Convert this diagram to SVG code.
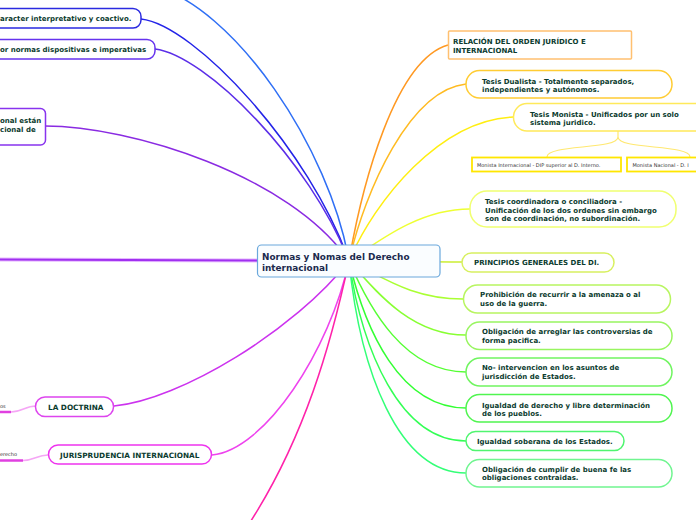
<svg xmlns="http://www.w3.org/2000/svg" width="696" height="520" viewBox="0 0 696 520">
<style>
.c{fill:none;stroke-width:1.5}
.n{fill:#fff;stroke-width:1.5}
.t{font-family:"DejaVu Sans",Verdana,sans-serif;font-weight:bold;font-size:7px;fill:#0b3b2e}
.tl{font-family:"DejaVu Sans",Verdana,sans-serif;font-weight:bold;font-size:7.3px;fill:#0b3b2e}
.s{font-family:"DejaVu Sans",Verdana,sans-serif;font-size:5px;fill:#333}
.ctr{font-family:"DejaVu Sans",Verdana,sans-serif;font-weight:bold;font-size:8.9px;fill:#1b2a4e}
</style>
<rect width="696" height="520" fill="#fff"/>
<g id="connectors">
<path class="c" stroke="#2f6ff5" stroke-width="1.2" d="M150,-15 C235,5 330,150 349,261"/>
<path class="c" stroke="#2323e8" d="M141,19 C195,25 310,150 349,261"/>
<path class="c" stroke="#5b2ee8" stroke-width="1.2" d="M155,49 C205,55 310,160 349,261"/>
<path class="c" stroke="#8a2be2" d="M45,126 C130,126 290,175 349,261"/>
<path fill="none" stroke="#e6b8ff" stroke-width="4" d="M0,259.5 L349,261"/>
<path fill="none" stroke="#a030f0" stroke-width="2" d="M0,259.5 L349,261"/>
<path class="c" stroke="#cc33ee" d="M114,406 C180,400 295,330 349,261"/>
<path class="c" stroke="#ee44ee" d="M212,455 C265,450 330,350 349,261"/>
<path class="c" stroke="#ff22aa" d="M349,261 C332,340 305,440 245,530"/>
<path fill="none" stroke="#f5a6f5" stroke-width="1.5" d="M36,406 C25,406 22,412 11,412"/>
<path fill="none" stroke="#e040e0" stroke-width="2.5" d="M0,412 L11,412"/>
<path fill="none" stroke="#f5a6f5" stroke-width="1.5" d="M48,455 C37,455 34,460.5 23,460.5"/>
<path fill="none" stroke="#e040e0" stroke-width="2.5" d="M0,460.5 L23,460.5"/>
<path class="c" stroke="#ff9922" d="M349,261 C362,185 395,60 448,45"/>
<path class="c" stroke="#ffbb22" d="M349,261 C365,190 410,90 466,84"/>
<path class="c" stroke="#ffee11" d="M349,261 C375,200 440,120 513,117"/>
<path class="c" stroke="#eeff33" d="M349,261 C380,240 420,209 470,209"/>
<path class="c" stroke="#ccee33" d="M349,261 C400,261 420,262 462,262"/>
<path class="c" stroke="#aaff33" d="M349,261 C380,275 410,299 463,299"/>
<path class="c" stroke="#88ff33" d="M349,261 C375,290 410,335 466,335"/>
<path class="c" stroke="#55ff33" d="M349,261 C370,310 405,372 466,372"/>
<path class="c" stroke="#33ff33" d="M349,261 C365,330 400,408 466,408"/>
<path class="c" stroke="#33ff55" d="M349,261 C362,350 400,441 466,441"/>
<path class="c" stroke="#33ff77" d="M349,261 C360,370 398,473 466,473"/>
<path fill="none" stroke="#ffe870" stroke-width="1.2" d="M618,131 L618,137 C618,150 547,144 547,157 M618,137 C618,150 690,144 690,157"/>
</g>
<g id="center">
<rect x="257.5" y="245" width="182.5" height="32" rx="4" fill="#fafdff" stroke="#6aa8dc" stroke-width="1.2"/>
<text class="ctr" x="262" y="259.5">Normas y Nomas del Derecho</text>
<text class="ctr" x="262" y="270.5">internacional</text>
</g>
<g id="n-caracter">
<rect class="n" x="-20" y="8.5" width="161" height="19.5" rx="8" stroke="#2a2ae0"/>
<text class="t" x="0" y="21">aracter interpretativo y coactivo.</text>
</g>
<g id="n-normas">
<rect class="n" x="-20" y="39.5" width="175" height="19.5" rx="8" stroke="#6633ee"/>
<text class="t" x="0" y="52">or normas dispositivas e imperativas</text>
</g>
<g id="n-estan">
<rect class="n" x="-20" y="108.5" width="65.5" height="36.5" rx="5" stroke="#8833ee"/>
<text class="t" x="0" y="123">onal están</text>
<text class="t" x="0" y="132">cional de</text>
</g>
<g id="n-doctrina">
<rect class="n" x="35.5" y="397" width="78" height="19.5" rx="9.5" stroke="#dd44ee"/>
<text class="tl" x="48" y="409.5">LA DOCTRINA</text>
</g>
<g id="n-doctrina-sub">
<text class="s" x="0" y="407.5">os</text>
</g>
<g id="n-jurisprudencia">
<rect class="n" x="48.5" y="445" width="163" height="19" rx="9.5" stroke="#ee33ee"/>
<text class="tl" x="60" y="457.5">JURISPRUDENCIA INTERNACIONAL</text>
</g>
<g id="n-jurisprudencia-sub">
<text class="s" x="0" y="456">erecho</text>
</g>
<g id="n-relacion">
<rect class="n" x="448.5" y="31" width="183" height="28" rx="1" stroke="#ffc070" stroke-width="2"/>
<text class="t" x="453" y="43.5">RELACIÓN DEL ORDEN JURÍDICO E</text>
<text class="t" x="453" y="52.5">INTERNACIONAL</text>
</g>
<g id="n-dualista">
<rect class="n" x="466" y="70.5" width="206" height="27.5" rx="13.5" stroke="#ffcc33"/>
<text class="t" x="482" y="83.5">Tesis Dualista - Totalmente separados,</text>
<text class="t" x="482" y="92">independientes y autónomos.</text>
</g>
<g id="n-monista">
<rect class="n" x="513.5" y="103.5" width="200" height="27.5" rx="13.5" stroke="#ffe95a"/>
<text class="t" x="530" y="116.5">Tesis Monista - Unificados por un solo</text>
<text class="t" x="530" y="125">sistema juridico.</text>
</g>
<g id="n-monista-int">
<rect x="472" y="157.5" width="149" height="14" fill="#fff" stroke="#ffe600" stroke-width="1.8"/>
<text class="s" x="477" y="166.5">Monista Internacional - DIP superior al D. Interno.</text>
</g>
<g id="n-monista-nac">
<rect x="627" y="157.5" width="80" height="14" fill="#fff" stroke="#ffe600" stroke-width="1.8"/>
<text class="s" x="632.5" y="166.5">Monista Nacional - D. I</text>
</g>
<g id="n-coordinadora">
<rect class="n" x="470" y="191" width="206" height="36" rx="17" stroke="#f0ff70"/>
<text class="t" x="485" y="203.5">Tesis coordinadora o conciliadora -</text>
<text class="t" x="485" y="212.5">Unificación de los dos ordenes sin embargo</text>
<text class="t" x="485" y="221">son de coordinación, no subordinación.</text>
</g>
<g id="n-principios">
<rect class="n" x="462" y="253" width="152" height="19" rx="9.5" stroke="#d8f060"/>
<text class="t" x="474" y="265">PRINCIPIOS GENERALES DEL DI.</text>
</g>
<g id="n-prohibicion">
<rect class="n" x="463.5" y="285" width="207" height="28" rx="14" stroke="#b8f560"/>
<text class="t" x="480" y="297">Prohibición de recurrir a la amenaza o al</text>
<text class="t" x="480" y="306">uso de la guerra.</text>
</g>
<g id="n-arreglar">
<rect class="n" x="466" y="322" width="206" height="27.5" rx="13.5" stroke="#98f560"/>
<text class="t" x="482" y="334">Obligación de arreglar las controversias de</text>
<text class="t" x="482" y="342.5">forma pacifica.</text>
</g>
<g id="n-nointervencion">
<rect class="n" x="466" y="358" width="206" height="28" rx="14" stroke="#70f560"/>
<text class="t" x="482" y="370">No- intervencion en los asuntos de</text>
<text class="t" x="482" y="379">jurisdicción de Estados.</text>
</g>
<g id="n-igualdad-derecho">
<rect class="n" x="466" y="394.5" width="206" height="27.5" rx="13.5" stroke="#50f550"/>
<text class="t" x="482" y="407.5">Igualdad de derecho y libre determinación</text>
<text class="t" x="482" y="416">de los pueblos.</text>
</g>
<g id="n-igualdad-soberana">
<rect class="n" x="466" y="431.5" width="158" height="19" rx="9.5" stroke="#50f570"/>
<text class="t" x="477" y="443.5">Igualdad soberana de los Estados.</text>
</g>
<g id="n-cumplir">
<rect class="n" x="466" y="459.5" width="206" height="27.5" rx="13.5" stroke="#70f590"/>
<text class="t" x="482" y="471.5">Obligación de cumplir de buena fe las</text>
<text class="t" x="482" y="480">obligaciones contraidas.</text>
</g>
</svg>
